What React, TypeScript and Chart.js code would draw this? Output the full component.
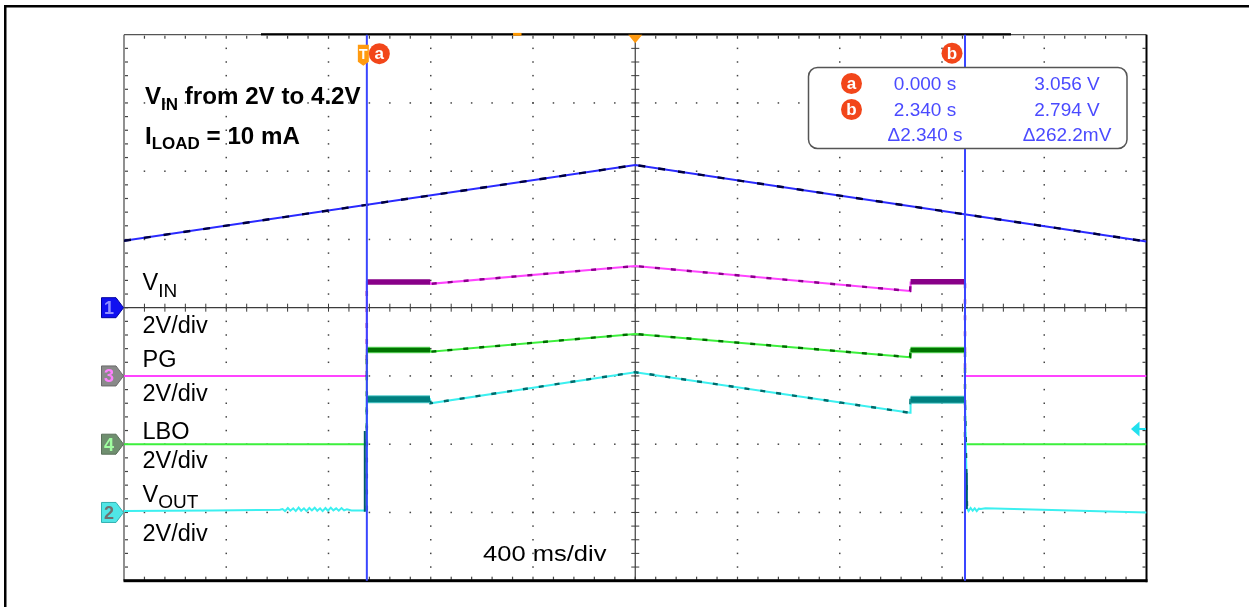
import React, { useEffect, useRef } from "react";
import { Chart, registerables } from "chart.js";
Chart.register(...registerables);

const W = 1249;
const H = 607;
const T_MIN = -0.95; // s (left edge of screen, cursor a = 0 s)
const T_MAX = 3.05; // s (10 div x 400 ms)
const V_PER_DIV = 2;

// ground reference level of each channel, in divisions from the bottom
const OFFSET_VIN = 4;
const OFFSET_PG = 3;
const OFFSET_LBO = 2;
const OFFSET_VOUT = 1;

// ---- data (seconds / volts) ----
const vinTime = [-0.95, 1.05, 3.05];
const vinVolts = [1.96, 4.18, 1.94];

const pgTime = [-0.95, 0, 0, 0.247, 0.249, 1.05, 2.125, 2.127, 2.34, 2.34, 3.05];
const pgVolts = [0.0, 0.0, 2.75, 2.75, 2.7, 3.22, 2.49, 2.74, 2.74, 0.0, 0.0];
const pgHoldStart = [0, 2.127];
const pgHoldEnd = [0.247, 2.34];
const pgHoldVolts = [2.75, 2.76];

const lboTime = [-0.95, 0, 0, 0.247, 0.249, 1.05, 2.125, 2.127, 2.34, 2.34, 3.05];
const lboVolts = [0.0, 0.0, 2.76, 2.76, 2.71, 3.23, 2.55, 2.76, 2.76, 0.0, 0.0];
const lboHoldStart = [0, 2.127];
const lboHoldEnd = [0.247, 2.34];
const lboHoldVolts = [2.76, 2.76];

const voutTime = [
  -0.95, -0.6, -0.34, -0.33, -0.32, -0.309, -0.299, -0.288, -0.278, -0.267, -0.257, -0.246,
  -0.236, -0.225, -0.215, -0.204, -0.194, -0.183, -0.173, -0.162, -0.152, -0.141, -0.131,
  -0.12, -0.11, -0.099, -0.089, -0.078, -0.06, 0, 0, 0.247, 0.249, 1.05, 2.125, 2.127,
  2.34, 2.348, 2.354, 2.362, 2.37, 2.378, 2.386, 2.394, 2.402, 2.42, 3.05,
];
const voutVolts = [
  0.04, 0.06, 0.08, 0.1, 0.04, 0.13, 0.05, 0.12, 0.04, 0.14, 0.05, 0.12, 0.04, 0.13, 0.06, 0.14,
  0.05, 0.12, 0.04, 0.13, 0.05, 0.14, 0.06, 0.12, 0.05, 0.13, 0.06, 0.09, 0.06, 0.06, 3.32,
  3.32, 3.2, 4.11, 2.92, 3.3, 3.3, 0.12, 0.04, 0.13, 0.05, 0.12, 0.04, 0.11, 0.1, 0.12, 0.0,
];
const voutHoldStart = [0, 2.127];
const voutHoldEnd = [0.247, 2.34];
const voutHoldVolts = [3.32, 3.3];
const voutSpikeTime = [-0.008, 2.347];
const voutSpikeFrom = [0.02, 0.1];
const voutSpikeTo = [2.39, 1.15];

// cursors
const cursorNames = ["a", "b"];
const cursorTimes = [0, 2.34];
const cursorTimeText = ["0.000 s", "2.340 s", "\u03942.340 s"];
const cursorVoltText = ["3.056 V", "2.794 V", "\u0394262.2mV"];

// channel labels
const channelNames = ["VIN", "PG", "LBO", "VOUT"];
const channelScale = ["2V/div", "2V/div", "2V/div", "2V/div"];
const timebaseText = "400 ms/div";

const toDiv = (v: number, off: number) => off + v / V_PER_DIV;
const series = (t: number[], v: number[], off: number) =>
  t.map((x, i) => ({ x, y: toDiv(v[i], off) }));
const holds = (s: number[], e: number[], v: number[], off: number) => {
  const out: any[] = [];
  s.forEach((st, i) => {
    out.push({ x: st, y: toDiv(v[i], off) }, { x: e[i], y: toDiv(v[i], off) }, { x: e[i], y: null });
  });
  return out;
};
const spikes = (t: number[], a: number[], b: number[], off: number) => {
  const out: any[] = [];
  t.forEach((x, i) => {
    out.push({ x, y: toDiv(a[i], off) }, { x, y: toDiv(b[i], off) }, { x, y: null });
  });
  return out;
};

const FONT = "'Liberation Sans', Arial, sans-serif";

function text(
  ctx: CanvasRenderingContext2D,
  s: string,
  x: number,
  y: number,
  size: number,
  o: { bold?: boolean; color?: string; sx?: number; align?: CanvasTextAlign; family?: string } = {}
) {
  const sx = o.sx ?? 1;
  ctx.save();
  ctx.translate(x, y);
  ctx.scale(sx, 1);
  ctx.font = `${o.bold ? "bold " : ""}${size}px ${o.family ?? FONT}`;
  ctx.fillStyle = o.color ?? "#000";
  ctx.textAlign = o.align ?? "left";
  ctx.textBaseline = "alphabetic";
  ctx.fillText(s, 0, 0);
  const w = ctx.measureText(s).width * sx;
  ctx.restore();
  return w;
}

function subText(
  ctx: CanvasRenderingContext2D,
  main: string,
  sub: string,
  rest: string,
  x: number,
  y: number,
  size: number,
  subSize: number,
  drop: number,
  bold: boolean,
  sx: number
) {
  let cx = x;
  cx += text(ctx, main, cx, y, size, { bold, sx });
  cx += text(ctx, sub, cx, y + drop, subSize, { bold });
  if (rest) text(ctx, rest, cx, y, size, { bold, sx });
}

function circleLabel(ctx: CanvasRenderingContext2D, cx: number, cy: number, r: number, s: string) {
  ctx.save();
  ctx.beginPath();
  ctx.arc(cx, cy, r, 0, Math.PI * 2);
  ctx.fillStyle = "#f2461a";
  ctx.fill();
  ctx.restore();
  text(ctx, s, cx, cy + 5.5, 17, { bold: true, color: "#fff", align: "center" });
}

function marker(ctx: CanvasRenderingContext2D, y: number, fill: string, stroke: string, label: string, tc: string) {
  const x0 = 101.5, x1 = 116, x2 = 123.5, h = 10;
  ctx.save();
  ctx.beginPath();
  ctx.moveTo(x0, y - h);
  ctx.lineTo(x1, y - h);
  ctx.lineTo(x2, y);
  ctx.lineTo(x1, y + h);
  ctx.lineTo(x0, y + h);
  ctx.closePath();
  ctx.fillStyle = fill;
  ctx.fill();
  ctx.strokeStyle = stroke;
  ctx.lineWidth = 1;
  ctx.stroke();
  ctx.restore();
  text(ctx, label, 109, y + 6.5, 18, { bold: true, color: tc, align: "center" });
}

const scopePlugin = {
  id: "scope",
  beforeDatasetsDraw(chart: any) {
    const ctx: CanvasRenderingContext2D = chart.ctx;
    const { left, right, top, bottom } = chart.chartArea;
    const dx = (right - left) / 10;
    const dy = (bottom - top) / 8;
    ctx.save();
    // outer frame
    ctx.fillStyle = "#000";
    ctx.fillRect(4, 5, W - 4, 2.5);
    ctx.fillRect(4, 5, 2.5, H - 5);

    // dotted graticule
    ctx.fillStyle = "#444";
    for (let i = 1; i < 10; i++) {
      if (i === 5) continue;
      const x = left + i * dx;
      for (let k = 1; k < 40; k++) {
        const y = top + (k * dy) / 5;
        ctx.fillRect(x - 0.75, y - 0.75, 1.5, 1.5);
      }
    }
    for (let j = 1; j < 8; j++) {
      if (j === 4) continue;
      const y = top + j * dy;
      for (let k = 1; k < 50; k++) {
        const x = left + (k * dx) / 5;
        ctx.fillRect(x - 0.75, y - 0.75, 1.5, 1.5);
      }
    }
    // border ticks
    for (let k = 1; k < 50; k++) {
      const x = left + (k * dx) / 5;
      ctx.fillRect(x - 0.6, top + 1, 1.2, 3);
      ctx.fillRect(x - 0.6, bottom - 4, 1.2, 3);
    }
    for (let k = 1; k < 40; k++) {
      const y = top + (k * dy) / 5;
      ctx.fillRect(left + 1, y - 0.6, 3, 1.2);
      ctx.fillRect(right - 4, y - 0.6, 3, 1.2);
    }
    // center axes
    const cx = left + 5 * dx;
    const cy = top + 4 * dy;
    ctx.strokeStyle = "#3c3c3c";
    ctx.lineWidth = 1.2;
    ctx.beginPath();
    ctx.moveTo(left, cy);
    ctx.lineTo(right, cy);
    ctx.moveTo(cx, top);
    ctx.lineTo(cx, bottom);
    ctx.stroke();
    ctx.lineWidth = 1;
    ctx.beginPath();
    for (let k = 1; k < 50; k++) {
      const x = left + (k * dx) / 5;
      ctx.moveTo(x, cy - 4);
      ctx.lineTo(x, cy + 4);
    }
    for (let k = 1; k < 40; k++) {
      const y = top + (k * dy) / 5;
      ctx.moveTo(cx - 4, y);
      ctx.lineTo(cx + 4, y);
    }
    ctx.stroke();

    // borders
    ctx.strokeStyle = "#555";
    ctx.lineWidth = 1.3;
    ctx.beginPath();
    ctx.moveTo(left, top);
    ctx.lineTo(right, top);
    ctx.moveTo(left, top);
    ctx.lineTo(left, bottom);
    ctx.stroke();
    ctx.fillStyle = "#000";
    ctx.fillRect(261, top - 1.5, 750, 2.2); // memory bar
    ctx.fillRect(right - 1, top, 2, bottom - top + 1.5);
    ctx.fillRect(left - 0.5, bottom - 1.5, right - left + 1.5, 3);
    ctx.fillStyle = "#ff9900";
    ctx.fillRect(513, top - 1.8, 8.5, 2.8);
    ctx.restore();
  },
  afterDatasetsDraw(chart: any) {
    const ctx: CanvasRenderingContext2D = chart.ctx;
    const { left, right, top, bottom } = chart.chartArea;
    const xs = chart.scales.x;
    ctx.save();
    // cursors
    ctx.strokeStyle = "#3a46ff";
    ctx.lineWidth = 2;
    cursorTimes.forEach((t) => {
      const x = xs.getPixelForValue(t);
      ctx.beginPath();
      ctx.moveTo(x, top);
      ctx.lineTo(x, bottom);
      ctx.stroke();
    });
    const xa = xs.getPixelForValue(cursorTimes[0]);
    const xb = xs.getPixelForValue(cursorTimes[1]);
    // trigger "T" tag
    ctx.fillStyle = "#ff9a10";
    ctx.beginPath();
    ctx.moveTo(xa - 9, top + 10);
    ctx.lineTo(xa + 2, top + 10);
    ctx.lineTo(xa + 2, top + 27);
    ctx.lineTo(xa - 3.5, top + 31);
    ctx.lineTo(xa - 9, top + 27);
    ctx.closePath();
    ctx.fill();
    text(ctx, "T", xa - 3.5, top + 24, 14, { bold: true, color: "#fff", align: "center" });
    circleLabel(ctx, xa + 12.5, top + 19, 10.5, cursorNames[0]);
    circleLabel(ctx, xb - 13, top + 18.5, 10.5, cursorNames[1]);

    // trigger position triangle
    const cx = (left + right) / 2;
    ctx.fillStyle = "#ff9a10";
    ctx.beginPath();
    ctx.moveTo(cx - 7, top);
    ctx.lineTo(cx + 7, top);
    ctx.lineTo(cx, top + 8.5);
    ctx.closePath();
    ctx.fill();

    // trigger level arrow (cyan)
    ctx.fillStyle = "#22e0ee";
    ctx.beginPath();
    ctx.moveTo(1131, 429);
    ctx.lineTo(1139.5, 421.5);
    ctx.lineTo(1139.5, 436.5);
    ctx.closePath();
    ctx.fill();
    ctx.fillRect(1139, 428, 7, 2);

    // cursor readout box
    ctx.strokeStyle = "#555";
    ctx.lineWidth = 1.5;
    ctx.fillStyle = "#fff";
    ctx.beginPath();
    (ctx as any).roundRect(808.5, 67.5, 318.5, 81, 9);
    ctx.fill();
    ctx.stroke();
    circleLabel(ctx, 851.5, 83.5, 10.5, cursorNames[0]);
    circleLabel(ctx, 851.5, 109.5, 10.5, cursorNames[1]);
    const blue = "#4a4aff";
    const rowsY = [90, 115.5, 141];
    cursorTimeText.forEach((s, i) => text(ctx, s, 925, rowsY[i], 19, { color: blue, align: "center" }));
    cursorVoltText.forEach((s, i) => text(ctx, s, 1067, rowsY[i], 19, { color: blue, align: "center" }));

    // annotation text
    subText(ctx, "V", "IN", " from 2V to 4.2V", 145, 103.5, 23, 17, 6, true, 1.05);
    subText(ctx, "I", "LOAD", " = 10 mA", 145, 143.5, 23, 17, 5, true, 1.05);

    const lsz = 23.5, lsx = 1.0, lx = 142.5;
    subText(ctx, "V", "IN", "", lx, 290, lsz, 19, 6.7, false, lsx);
    text(ctx, channelScale[0], lx, 333, lsz, { sx: lsx });
    text(ctx, channelNames[1], lx, 367, lsz, { sx: lsx });
    text(ctx, channelScale[1], lx, 400.5, lsz, { sx: lsx });
    text(ctx, channelNames[2], lx, 439, lsz, { sx: lsx });
    text(ctx, channelScale[2], lx, 468, lsz, { sx: lsx });
    subText(ctx, "V", "OUT", "", lx, 501.5, lsz, 19, 6.7, false, lsx);
    text(ctx, channelScale[3], lx, 540.5, lsz, { sx: lsx });
    text(ctx, timebaseText, 483, 560.5, 22, { sx: 1.16 });

    // channel markers
    const ys = chart.scales.y;
    marker(ctx, ys.getPixelForValue(OFFSET_VIN), "#1010f0", "#0000a0", "1", "#9090ff");
    marker(ctx, ys.getPixelForValue(OFFSET_PG), "#8a8a8a", "#6a6a6a", "3", "#ff80ff");
    marker(ctx, ys.getPixelForValue(OFFSET_LBO), "#6f8f6f", "#5a705a", "4", "#a0ffa0");
    marker(ctx, ys.getPixelForValue(OFFSET_VOUT), "#50e6e6", "#30b0b0", "2", "#707070");
    ctx.restore();
  },
};

function line(data: any[], color: string, width: number, dash?: number[], ground?: number) {
  const ds: any = {
    data,
    borderColor: color,
    backgroundColor: color,
    borderWidth: width,
    pointRadius: 0,
    tension: 0,
    fill: false,
    spanGaps: false,
  };
  if (dash) ds.borderDash = dash;
  if (ground !== undefined) {
    // dark acquisition dashes only on the live (non-ground) part of the trace
    ds.segment = {
      borderColor: (c: any) =>
        c.p0.parsed.y - ground < 0.3 && c.p1.parsed.y - ground < 0.3 ? "rgba(0,0,0,0)" : undefined,
    };
  }
  return ds;
}

export default function App() {
  const ref = useRef<HTMLCanvasElement | null>(null);
  useEffect(() => {
    if (!ref.current) return;
    const vin = series(vinTime, vinVolts, OFFSET_VIN);
    const pg = series(pgTime, pgVolts, OFFSET_PG);
    const lbo = series(lboTime, lboVolts, OFFSET_LBO);
    const vout = series(voutTime, voutVolts, OFFSET_VOUT);
    // listed bottom-to-top; Chart.js paints dataset 0 last, so reverse
    const layers = [
      line(pg, "#ff44ff", 2),
      line(pg, "#8a008a", 2.4, [5, 11], OFFSET_PG),
      line(lbo, "#3cf03c", 2),
      line(lbo, "#006a00", 2.4, [5, 11], OFFSET_LBO),
      line(vout, "#3cf0f0", 2),
      line(vout, "#006a6a", 2.4, [5, 11], OFFSET_VOUT),
      line(vin, "#2a2aff", 2),
      line(vin, "#00003c", 2.4, [7, 13]),
      line(holds(pgHoldStart, pgHoldEnd, pgHoldVolts, OFFSET_PG), "#880088", 5.5),
      line(holds(lboHoldStart, lboHoldEnd, lboHoldVolts, OFFSET_LBO), "#66dd66", 6.5),
      line(holds(lboHoldStart, lboHoldEnd, lboHoldVolts, OFFSET_LBO), "#007400", 4.5),
      line(holds(voutHoldStart, voutHoldEnd, voutHoldVolts, OFFSET_VOUT), "#55cccc", 8),
      line(holds(voutHoldStart, voutHoldEnd, voutHoldVolts, OFFSET_VOUT), "#008080", 6),
      line(spikes(voutSpikeTime, voutSpikeFrom, voutSpikeTo, OFFSET_VOUT), "#005a6a", 2),
    ];
    const chart = new Chart(ref.current, {
      type: "line",
      data: { datasets: layers.reverse() as any },
      options: {
        animation: false,
        responsive: false,
        maintainAspectRatio: false,
        events: [],
        layout: { padding: { left: 124, right: 102.5, top: 34.7, bottom: 26.3 } },
        plugins: { legend: { display: false }, tooltip: { enabled: false } },
        scales: {
          x: { type: "linear", min: T_MIN, max: T_MAX, display: false },
          y: { type: "linear", min: 0, max: 8, display: false },
        },
      },
      plugins: [scopePlugin],
    });
    return () => chart.destroy();
  }, []);
  return (
    <div style={{ position: "absolute", left: 0, top: 0, width: W, height: H, background: "#fff" }}>
      <canvas ref={ref} width={W} height={H} style={{ display: "block" }} />
    </div>
  );
}
